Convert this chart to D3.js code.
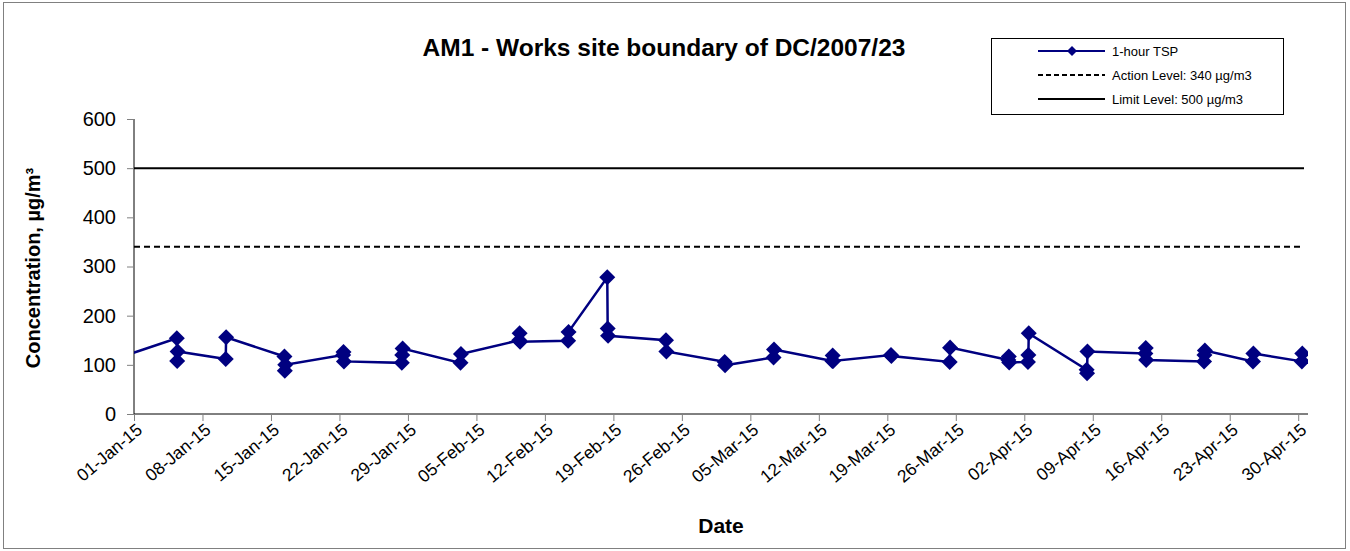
<!DOCTYPE html>
<html>
<head>
<meta charset="utf-8">
<script src="https://cdn.jsdelivr.net/npm/d3@7"></script>
<style>
  body { margin: 0; background: #fff; }
  svg { font-family: "Liberation Sans", Arial, sans-serif; }
</style>
</head>
<body>
<svg width="1350" height="551"></svg>
<script>
// sampling days and the 1-hour TSP results of each day (in time order)
const sampleDates = ["2014-12-30", "2015-01-05", "2015-01-10", "2015-01-16", "2015-01-22", "2015-01-28",
    "2015-02-03", "2015-02-09", "2015-02-14", "2015-02-18", "2015-02-24", "2015-03-02",
    "2015-03-07", "2015-03-13", "2015-03-19", "2015-03-25", "2015-03-31", "2015-04-02",
    "2015-04-08", "2015-04-14", "2015-04-20", "2015-04-25", "2015-04-30"];
const sampleValues = [[114], [154, 108, 127], [112, 156], [117, 88, 100], [120, 126, 107], [104, 120, 133],
    [104, 122], [150, 164, 147], [149, 167], [278, 174, 159], [150, 127], [106, 99],
    [115, 131], [108, 119, 108], [120, 118], [106, 135], [110, 117, 105], [106, 120, 164],
    [90, 83, 127], [123, 134, 110], [107, 120, 129], [107, 123], [107, 123]];
const sampleHours = [9, 10, 11];

const actionLevel = 340;
const limitLevel = 500;
const yTicks = [0, 100, 200, 300, 400, 500, 600];
const xStart = "2015-01-01", xEnd = "2015-05-01";

const titleText = "AM1 - Works site boundary of DC/2007/23";
const legendLabels = ["1-hour TSP", "Action Level: 340 \u00b5g/m3", "Limit Level: 500 \u00b5g/m3"];

const svg = d3.select("svg");
const margin = { left: 134, right: 42, top: 119, bottom: 137 };
const width = 1350 - margin.left - margin.right,
    height = 551 - margin.top - margin.bottom;

const parse = d3.timeParse("%Y-%m-%d");

// flatten samples into points
const points = [];
sampleDates.forEach((ds, i) => {
    sampleValues[i].forEach((v, j) => {
        const d = d3.timeHour.offset(parse(ds), sampleHours[j]);
        points.push({ date: d, value: v });
    });
});

const x = d3.scaleTime().domain([parse(xStart), parse(xEnd)]).range([0, width]);
const y = d3.scaleLinear().domain([0, 600]).range([height, 0]);

// outer frame
svg.append("rect")
    .attr("x", 3.5).attr("y", 2.5)
    .attr("width", 1342).attr("height", 546)
    .attr("fill", "none").attr("stroke", "#808080").attr("stroke-width", 1);

svg.append("text")
    .attr("x", 664).attr("y", 56)
    .attr("text-anchor", "middle")
    .attr("font-size", "24.5px").attr("font-weight", "bold")
    .text(titleText);

const g = svg.append("g").attr("transform", `translate(${margin.left},${margin.top})`);

g.append("defs").append("clipPath").attr("id", "plotclip")
    .append("rect").attr("width", width).attr("height", height);

// axes
const yAxis = g.append("g")
    .call(d3.axisLeft(y).tickValues(yTicks).tickSize(7).tickPadding(11));
yAxis.selectAll("text").attr("font-size", "20px").attr("fill", "#000");
yAxis.select(".domain").attr("d", `M0,${height}V0`).attr("stroke", "#000");
yAxis.selectAll(".tick line").attr("stroke", "#808080");

const xTicks = d3.timeDay.range(parse(xStart), parse(xEnd), 7);
const xAxis = g.append("g")
    .attr("transform", `translate(0,${height})`)
    .call(d3.axisBottom(x).tickValues(xTicks).tickFormat(d3.timeFormat("%d-%b-%y")).tickSize(7));
xAxis.select(".domain").attr("d", `M0,0H${width}`).attr("stroke", "#000");
xAxis.selectAll(".tick line").attr("stroke", "#808080");
xAxis.selectAll("text")
    .attr("font-size", "17.5px").attr("fill", "#000")
    .attr("text-anchor", "end")
    .attr("x", 0).attr("y", 0).attr("dy", "0.35em")
    .attr("transform", "translate(5,13) rotate(-40)");

// criteria lines
g.append("line")
    .attr("x1", 0).attr("x2", width - 4)
    .attr("y1", y(actionLevel)).attr("y2", y(actionLevel))
    .attr("stroke", "#000").attr("stroke-width", 2).attr("stroke-dasharray", "6,4");
g.append("line")
    .attr("x1", 0).attr("x2", width - 4)
    .attr("y1", y(limitLevel)).attr("y2", y(limitLevel))
    .attr("stroke", "#000").attr("stroke-width", 2);

// TSP series
const line = d3.line().x(d => x(d.date)).y(d => y(d.value));
const series = g.append("g").attr("clip-path", "url(#plotclip)");
series.append("path")
    .datum(points)
    .attr("d", line)
    .attr("fill", "none")
    .attr("stroke", "#000080")
    .attr("stroke-width", 2.5);

const diamond = d3.symbol().type(d3.symbolSquare).size(128);
series.selectAll(".pt")
    .data(points)
    .enter().append("path")
    .attr("class", "pt")
    .attr("d", diamond)
    .attr("transform", d => `translate(${x(d.date)},${y(d.value)}) rotate(45)`)
    .attr("fill", "#000080");

// axis titles
svg.append("text")
    .attr("transform", `translate(40,268) rotate(-90)`)
    .attr("text-anchor", "middle")
    .attr("font-size", "20px").attr("font-weight", "bold")
    .text("Concentration, \u00b5g/m\u00b3");

svg.append("text")
    .attr("x", 721).attr("y", 533)
    .attr("text-anchor", "middle")
    .attr("font-size", "21px").attr("font-weight", "bold")
    .text("Date");

// legend
const legend = svg.append("g").attr("transform", "translate(991,38)");
legend.append("rect")
    .attr("x", 0.5).attr("y", 0.5)
    .attr("width", 292).attr("height", 76)
    .attr("fill", "#fff").attr("stroke", "#000").attr("stroke-width", 1);

const rows = legend.selectAll(".row")
    .data(legendLabels)
    .enter().append("g")
    .attr("transform", (d, i) => `translate(0,${13 + i * 24})`);

rows.append("line")
    .attr("x1", 47).attr("x2", 114)
    .attr("stroke", (d, i) => i === 0 ? "#000080" : "#000")
    .attr("stroke-width", 2)
    .attr("stroke-dasharray", (d, i) => i === 1 ? "5,3" : null);

rows.filter((d, i) => i === 0).append("path")
    .attr("d", d3.symbol().type(d3.symbolSquare).size(50))
    .attr("transform", "translate(81,0) rotate(45)")
    .attr("fill", "#000080");

rows.append("text")
    .attr("x", 121).attr("dy", "0.35em")
    .attr("font-size", "13px")
    .text(d => d);
</script>
</body>
</html>
